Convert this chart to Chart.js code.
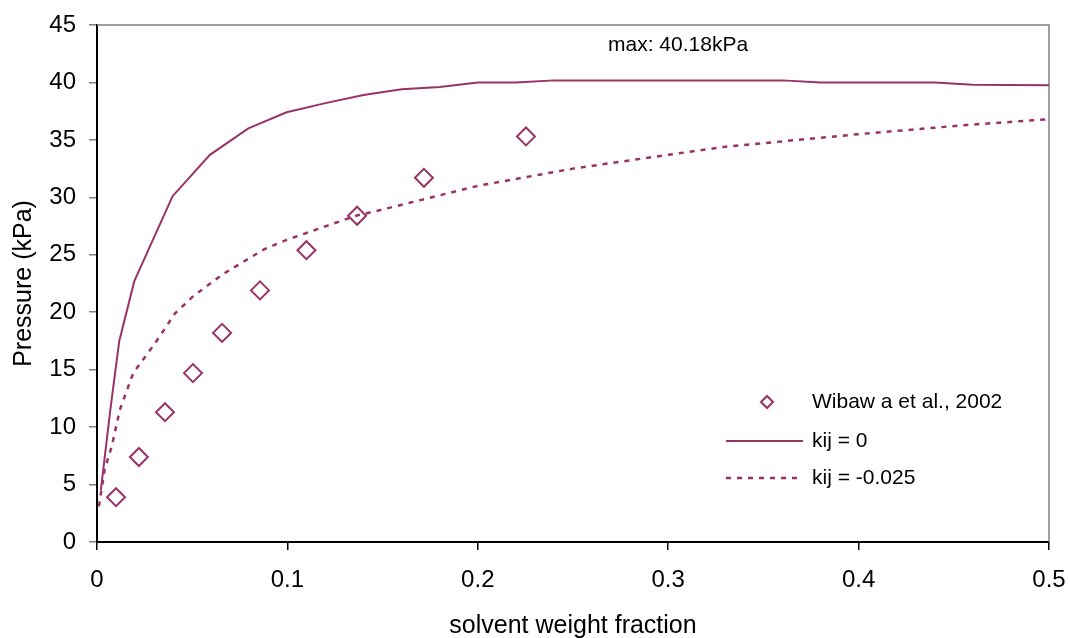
<!DOCTYPE html>
<html>
<head>
<meta charset="utf-8">
<script src="https://cdn.jsdelivr.net/npm/chart.js@4.4.1/dist/chart.umd.min.js"></script>
<style>
  html, body { margin: 0; padding: 0; background: #fff; }
  #wrap { width: 1070px; height: 638px; }
</style>
</head>
<body>
<div id="wrap"><canvas id="chart" width="1070" height="638"></canvas></div>
<script>
// measured points (Wibawa et al., 2002)
const wibawaX = [0.010, 0.022, 0.0357, 0.0504, 0.0657, 0.0856, 0.110, 0.1366, 0.1717, 0.2253];
const wibawaY = [3.9, 7.4, 11.3, 14.7, 18.2, 21.9, 25.4, 28.4, 31.7, 35.3];

// model, kij = 0
const kij0X = [0.002, 0.007, 0.0117, 0.0196, 0.0397, 0.0593, 0.0795, 0.0996, 0.12, 0.14, 0.16, 0.18, 0.20, 0.22, 0.24, 0.36, 0.38, 0.44, 0.46, 0.50];
const kij0Y = [4.5, 11.5, 17.5, 22.7, 30.1, 33.7, 36.0, 37.4, 38.2, 38.9, 39.4, 39.6, 40.0, 40.0, 40.18, 40.18, 40.0, 40.0, 39.8, 39.75];

// model, kij = -0.025
const kijNX = [0.001, 0.004, 0.0077, 0.012, 0.019, 0.0305, 0.041, 0.0506, 0.066, 0.088, 0.0996, 0.136, 0.149, 0.20, 0.25, 0.30, 0.33, 0.40, 0.457, 0.50];
const kijNY = [3.1, 6.3, 8.3, 11.5, 14.7, 17.3, 19.9, 21.4, 23.3, 25.5, 26.3, 28.4, 28.9, 31.0, 32.5, 33.7, 34.4, 35.5, 36.3, 36.8];

const xTicks = [0, 0.1, 0.2, 0.3, 0.4, 0.5];
const yTicks = [0, 5, 10, 15, 20, 25, 30, 35, 40, 45];

const seriesNames = ['Wibaw a et al., 2002', 'kij = 0', 'kij = -0.025'];
const maxNote = 'max: 40.18kPa';

const PLUM = '#993366';
const FONT = '"Liberation Sans", Arial, sans-serif';

const toPts = (xs, ys) => xs.map((x, i) => ({ x: x, y: ys[i] }));

// frame, annotation and legend drawn inside the plot
const framePlugin = {
    id: 'frame',
    beforeDatasetsDraw(chart) {
        const { ctx, chartArea: a } = chart;
        ctx.save();
        ctx.strokeStyle = '#808080';
        ctx.lineWidth = 1.5;
        ctx.beginPath();
        ctx.moveTo(a.left, a.top);
        ctx.lineTo(a.right, a.top);
        ctx.lineTo(a.right, a.bottom);
        ctx.stroke();
        ctx.restore();
    },
    afterDraw(chart) {
        const { ctx } = chart;
        ctx.save();
        ctx.fillStyle = '#000';
        ctx.font = '21px ' + FONT;
        ctx.textBaseline = 'middle';
        ctx.textAlign = 'left';
        ctx.fillText(maxNote, 608, 45);

        const rows = [402, 441, 478];
        chart.data.datasets.forEach((ds, i) => {
            const y = rows[i];
            ctx.strokeStyle = PLUM;
            if (ds.showLine === false) {
                ctx.lineWidth = 2;
                ctx.fillStyle = '#fff';
                Chart.helpers.drawPoint(ctx, { pointStyle: 'rectRot', radius: 6, borderWidth: 2 }, 767, y);
            } else {
                ctx.lineWidth = ds.borderWidth;
                ctx.setLineDash(ds.borderDash || []);
                ctx.beginPath();
                ctx.moveTo(726, y);
                ctx.lineTo(803, y);
                ctx.stroke();
                ctx.setLineDash([]);
            }
            ctx.fillStyle = '#000';
            ctx.fillText(ds.label, 812, y);
        });
        ctx.restore();
    }
};

new Chart(document.getElementById('chart').getContext('2d'), {
    type: 'scatter',
    data: {
        datasets: [{
            label: seriesNames[0],
            data: toPts(wibawaX, wibawaY),
            showLine: false,
            pointStyle: 'rectRot',
            pointRadius: 9,
            pointHoverRadius: 9,
            pointBorderWidth: 2,
            borderColor: PLUM,
            backgroundColor: 'rgba(0,0,0,0)',
            order: 0
        }, {
            label: seriesNames[1],
            data: toPts(kij0X, kij0Y),
            showLine: true,
            borderColor: PLUM,
            borderWidth: 2,
            pointRadius: 0,
            tension: 0,
            order: 2
        }, {
            label: seriesNames[2],
            data: toPts(kijNX, kijNY),
            showLine: true,
            borderColor: PLUM,
            borderWidth: 2.5,
            borderDash: [5, 6],
            pointRadius: 0,
            tension: 0,
            order: 1
        }]
    },
    options: {
        responsive: false,
        animation: false,
        devicePixelRatio: 1,
        layout: { padding: { top: 25, right: 21, left: 0, bottom: 0 } },
        plugins: {
            legend: { display: false },
            tooltip: { enabled: false }
        },
        scales: {
            x: {
                type: 'linear',
                min: 0,
                max: 0.5,
                afterBuildTicks: s => { s.ticks = xTicks.map(v => ({ value: v })); },
                afterFit: s => { s.height = 96; s.paddingLeft = 0; s.paddingRight = 0; },
                ticks: {
                    color: '#000',
                    font: { family: FONT, size: 24 },
                    padding: 16,
                    maxRotation: 0,
                    callback: v => String(v)
                },
                grid: { display: true, drawOnChartArea: false, drawTicks: true, tickLength: 8, color: '#000', lineWidth: 1.5 },
                border: { display: true, color: '#000', width: 2 },
                title: {
                    display: true,
                    text: 'solvent weight fraction',
                    color: '#000',
                    font: { family: FONT, size: 25 },
                    padding: { top: 0, bottom: -3 }
                }
            },
            y: {
                min: 0,
                max: 45,
                afterBuildTicks: s => { s.ticks = yTicks.map(v => ({ value: v })); },
                afterFit: s => { s.width = 97; s.paddingTop = 0; s.paddingBottom = 0; },
                ticks: {
                    color: '#000',
                    font: { family: FONT, size: 24 },
                    padding: 13,
                    callback: v => String(v)
                },
                grid: { display: true, drawOnChartArea: false, drawTicks: true, tickLength: 8, color: '#808080', lineWidth: 1.5 },
                border: { display: true, color: '#000', width: 2 },
                title: {
                    display: true,
                    text: 'Pressure (kPa)',
                    color: '#000',
                    font: { family: FONT, size: 25 },
                    padding: { top: 9, bottom: 0 }
                }
            }
        }
    },
    plugins: [framePlugin]
});
</script>
</body>
</html>
